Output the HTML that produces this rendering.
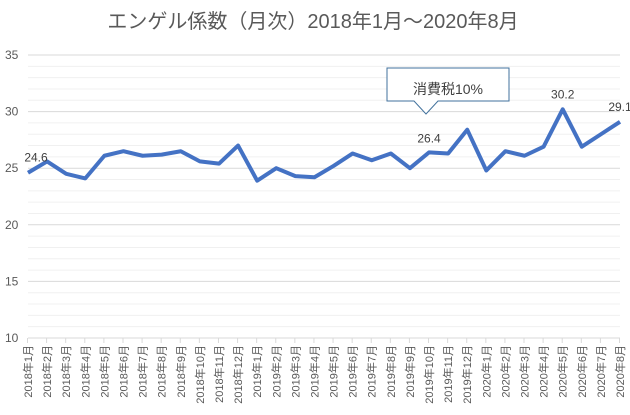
<!DOCTYPE html>
<html><head><meta charset="utf-8"><style>
body{margin:0;background:#fff;}
svg{display:block;font-family:"Liberation Sans","Noto Sans CJK JP",sans-serif;}
</style></head><body>
<svg id="c" width="630" height="415">
<text x="313" y="28" text-anchor="middle" font-size="20" fill="#595959">エンゲル係数（月次）2018年1月～2020年8月</text>
<g id="grid"></g><g id="xax"></g><g id="yax"></g><g id="series"></g>
<g>
<path d="M387,68 H509 V101 H438 L426,114 L414,101 H387 Z" fill="#fff" stroke="#41719c" stroke-width="1"/>
<text x="448" y="94" text-anchor="middle" font-size="14" fill="#404040">消費税10%</text>
</g>
</svg>
<script>
const categories=[];for(let y=2018;y<=2020;y++)for(let m=1;m<=12;m++){if(y==2020&&m>8)break;categories.push(y+'年'+m+'月');}
const values=[24.6,25.6,24.5,24.1,26.1,26.5,26.1,26.2,26.5,25.6,25.4,27.0,23.9,25.0,24.3,24.2,25.2,26.3,25.7,26.3,25.0,26.4,26.3,28.4,24.8,26.5,26.1,26.9,30.2,26.9,28.0,29.1];
const yTicks=[10,15,20,25,30,35];
const labeled={0:'24.6',21:'26.4',28:'30.2',31:'29.1'};
const NS='http://www.w3.org/2000/svg';
const X0=28,X1=620,Y0=338,Y1=55,ymin=10,ymax=35;
const xs=i=>X0+(X1-X0)*i/(categories.length-1);
const ys=v=>Y0-(v-ymin)/(ymax-ymin)*(Y0-Y1);
function mk(t,a,p){const e=document.createElementNS(NS,t);for(const k in a)e.setAttribute(k,a[k]);p.appendChild(e);return e;}
const grid=document.getElementById('grid'),yax=document.getElementById('yax'),xax=document.getElementById('xax'),ser=document.getElementById('series');
for(let v=ymin+1;v<=ymax;v++){const l=mk('line',{x1:X0,x2:X1,y1:ys(v),y2:ys(v),stroke:v%5==0?'#d9d9d9':'#f0f0f0','stroke-width':1},grid);

}
yTicks.forEach(v=>{const t=mk('text',{x:5,y:ys(v)+4,'font-size':12,fill:'#595959'},yax);t.textContent=v;

});
const ax=mk('line',{x1:X0,x2:X1,y1:Y0,y2:Y0,stroke:'#d9d9d9'},xax);


categories.forEach((c,i)=>{const x=xs(i);mk('line',{x1:x-0.5,x2:x-0.5,y1:Y0,y2:Y0+5,stroke:'#d9d9d9'},xax);
const t=mk('text',{x:0,y:0,'font-size':11,fill:'#595959','text-anchor':'end',transform:`translate(${x+4},${Y0+7}) rotate(-90)`},xax);t.textContent=c;

});
const p=mk('polyline',{points:values.map((v,i)=>xs(i)+','+ys(v)).join(' '),fill:'none',stroke:'#4472c4','stroke-width':4,'stroke-linejoin':'round'},ser);


for(const k in labeled){const i=+k;const t=mk('text',{x:xs(i)+(i==0?8:0),y:ys(values[i])-(i==21?-14:11)+ (i==21?-24:0),'font-size':12,fill:'#404040','text-anchor':'middle'},ser);t.textContent=labeled[k];

}
</script>
</body></html>
